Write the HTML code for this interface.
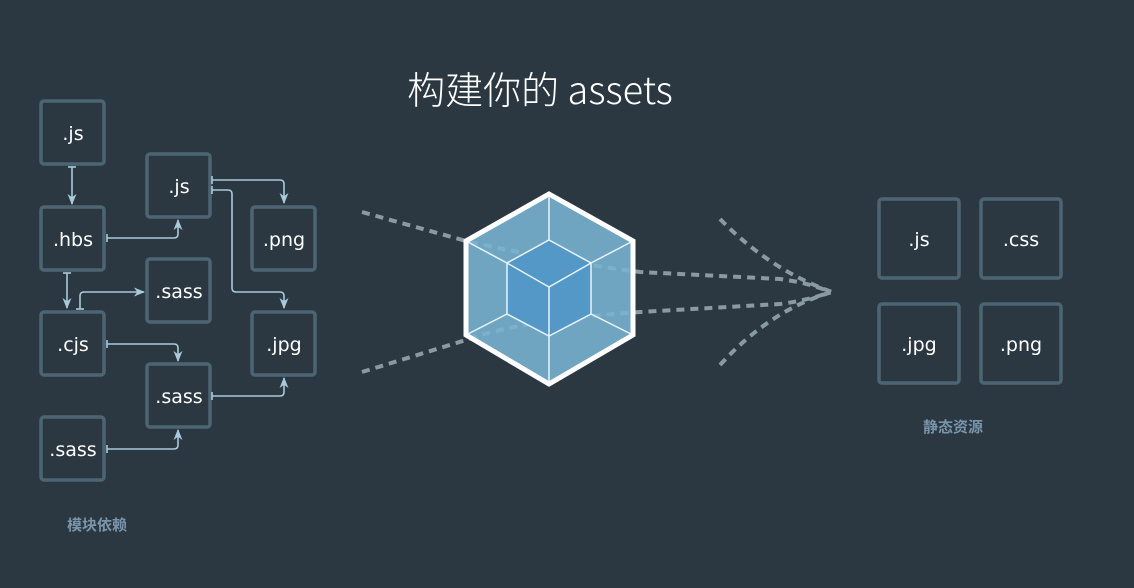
<!DOCTYPE html>
<html><head><meta charset="utf-8"><style>
html,body{margin:0;padding:0;background:#2b3842;}
svg{display:block}
</style></head><body>
<svg width="1134" height="588" viewBox="0 0 1134 588" xmlns="http://www.w3.org/2000/svg">
<rect width="1134" height="588" fill="#2b3842"/>
<defs>
<marker id="a" viewBox="0 0 10 10" refX="9" refY="5" markerWidth="7" markerHeight="7" orient="auto-start-reverse"><path d="M0,1 L10,5 L0,9 L3,5 Z" fill="#a9cadb"/></marker>
</defs>
<text x="540" y="104" text-anchor="middle" font-family="Noto Sans CJK SC, sans-serif" font-size="38" fill="#ffffff" font-weight="300">构建你的 assets</text>

<g fill="none" stroke="#8a9aa3" stroke-width="4" stroke-dasharray="8,6">
<path d="M362,212 L466,241 Q560,262 640,272 L780,279 Q810,283 830,292"/>
<path d="M362,372 L466,340 Q520,320 640,312 L780,304 Q810,300 830,292"/>
<path d="M720,219 Q770,270 832,292"/>
<path d="M720,365 Q770,310 832,292"/>
</g>

<polygon points="549,194 633,241 633,335 549,384 466,335 466,241" fill="#7ab4d4" fill-opacity="0.88"/>
<polygon points="549,240 591,263 591,314 549,336 507,314 507,263" fill="#5398c6"/>
<g stroke="#e8f3f9" stroke-width="1.5" fill="none">
<polyline points="507,263 549,287 591,263"/>
<line x1="549" y1="287" x2="549" y2="336"/>
<line x1="549" y1="194" x2="549" y2="240"/>
<line x1="549" y1="336" x2="549" y2="384"/>
<line x1="466" y1="241" x2="507" y2="263"/>
<line x1="633" y1="241" x2="591" y2="263"/>
<line x1="466" y1="335" x2="507" y2="314"/>
<line x1="633" y1="335" x2="591" y2="314"/>
<polygon points="549,240 591,263 591,314 549,336 507,314 507,263"/>
</g>
<polygon points="549,194 633,241 633,335 549,384 466,335 466,241" fill="none" stroke="#ffffff" stroke-width="5" stroke-linejoin="miter"/>

<g fill="none" stroke="#4d6572" stroke-width="3.5">
<rect x="41" y="101" width="63" height="63" rx="3"/>
<rect x="41" y="207" width="63" height="63" rx="3"/>
<rect x="41" y="312" width="63" height="63" rx="3"/>
<rect x="41" y="417" width="63" height="63" rx="3"/>
<rect x="147" y="154" width="63" height="63" rx="3"/>
<rect x="147" y="259" width="63" height="63" rx="3"/>
<rect x="147" y="364" width="63" height="63" rx="3"/>
<rect x="252" y="207" width="63" height="63" rx="3"/>
<rect x="252" y="312" width="63" height="63" rx="3"/>
<rect x="879" y="199" width="80" height="79" rx="3"/>
<rect x="981" y="199" width="80" height="79" rx="3"/>
<rect x="879" y="304" width="80" height="79" rx="3"/>
<rect x="981" y="304" width="80" height="79" rx="3"/>
</g>
<g font-family="DejaVu Sans, sans-serif" font-size="19" fill="#ffffff" text-anchor="middle">
<text x="73" y="140">.js</text>
<text x="73" y="246">.hbs</text>
<text x="73" y="351">.cjs</text>
<text x="73" y="456">.sass</text>
<text x="179" y="193">.js</text>
<text x="179" y="298">.sass</text>
<text x="179" y="403">.sass</text>
<text x="284" y="246">.png</text>
<text x="284" y="351">.jpg</text>
<text x="919" y="246">.js</text>
<text x="1021" y="246">.css</text>
<text x="919" y="351">.jpg</text>
<text x="1021" y="351">.png</text>
</g>

<g fill="none" stroke="#a9cadb" stroke-width="1.6" marker-end="url(#a)">
<path d="M72,167 L72,204"/>
<path d="M107,238 L174,238 Q178,238 178,234 L178,220"/>
<path d="M212,180 L280,180 Q284,180 284,184 L284,203"/>
<path d="M212,190 L228,190 Q232,190 232,194 L232,288 Q232,292 236,292 L280,292 Q284,292 284,296 L284,308"/>
<path d="M67,273 L67,308"/>
<path d="M80,309 L80,296 Q80,292 84,292 L144,292"/>
<path d="M107,344 L174,344 Q178,344 178,348 L178,361"/>
<path d="M212,396 L280,396 Q284,396 284,392 L284,378"/>
<path d="M107,449 L174,449 Q178,449 178,445 L178,430"/>
</g>
<g stroke="#a9cadb" stroke-width="1.6">
<line x1="68" y1="167" x2="76" y2="167"/>
<line x1="107" y1="234" x2="107" y2="242"/>
<line x1="212" y1="176" x2="212" y2="184"/>
<line x1="212" y1="186" x2="212" y2="194"/>
<line x1="63" y1="273" x2="71" y2="273"/>
<line x1="76" y1="309" x2="84" y2="309"/>
<line x1="107" y1="340" x2="107" y2="348"/>
<line x1="212" y1="392" x2="212" y2="400"/>
<line x1="107" y1="445" x2="107" y2="453"/>
</g>

<g font-family="Liberation Sans, Noto Sans CJK SC, sans-serif" font-size="15" font-weight="bold" fill="#7995ab" text-anchor="middle">
<text x="97" y="530">模块依赖</text>
<text x="953" y="432">静态资源</text>
</g>
</svg>
</body></html>
